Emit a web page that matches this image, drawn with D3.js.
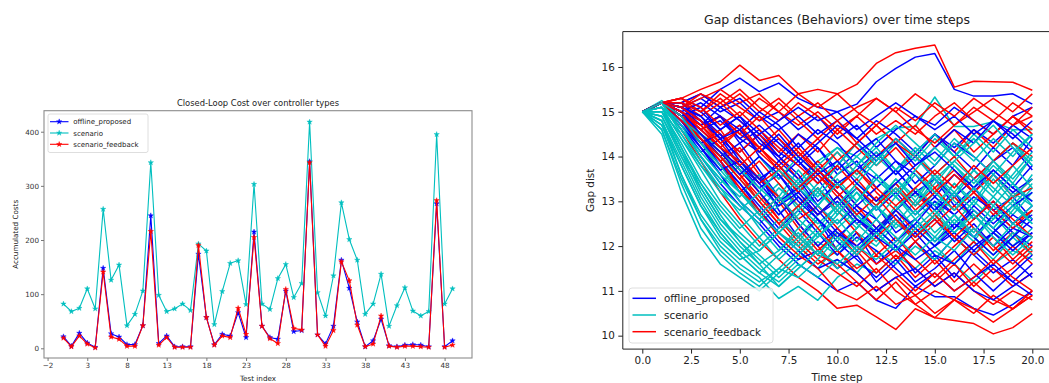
<!DOCTYPE html>
<html>
<head>
<meta charset="utf-8">
<script src="https://cdn.jsdelivr.net/npm/d3@7"></script>
<style>
  html, body { margin: 0; padding: 0; background: #fff; overflow: hidden; }
  svg { display: block; font-family: "DejaVu Sans", sans-serif; }
</style>
</head>
<body>
<div id="chart"></div>
<script>
// --- DATA: left panel (closed-loop cost per test) ---
const seriesNames = ["offline_proposed", "scenario", "scenario_feedback"];
const testIndex = d3.range(50);
const offlineCost = [21.5, 4, 28, 10, 2, 148, 27, 21, 7, 7,
  42, 245, 9, 23, 3, 3, 3, 174, 57, 7,
  26, 23, 66, 20, 215, 41, 20, 17, 106, 31,
  33, 345, 25, 8, 41, 163, 111, 49, 3, 14,
  54, 5, 3, 6, 7, 6, 3, 267, 3, 14];
const scenarioCost = [82, 68, 74, 110, 73, 257, 126, 154, 42, 63,
  106, 343, 98, 68, 73, 82, 70, 193, 180, 44,
  105, 157, 162, 81, 303, 82, 72, 129, 155, 94,
  120, 418, 103, 60, 134, 269, 201, 163, 63, 82,
  137, 41, 79, 112, 69, 60, 68, 395, 82, 110];
const feedbackCost = [19, 3, 23, 8, 1, 141, 21, 17, 4, 4,
  42, 216, 6, 20, 2, 2, 2, 190, 57, 6,
  23, 20, 74, 26, 205, 41, 18, 9, 109, 37,
  34, 343, 25, 4, 33, 160, 125, 43, 3, 8,
  60, 4, 2, 4, 4, 3, 2, 273, 2, 6];
const costTicksX = [-2, 3, 8, 13, 18, 23, 28, 33, 38, 43, 48];
const costTicksY = [0, 100, 200, 300, 400];

// --- DATA: right panel (gap distance trajectories, t = 0..20) ---
const timeSteps = d3.range(21);
const offlineRuns = [
  [15, 15.2, 15.3, 15.1, 15.5, 15.75, 15.45, 15.64, 15.3, 15.1, 15.0, 15.17, 15.67, 15.97, 16.22, 16.3, 15.5, 15.35, 15.35, 15.4, 15.17],
  [15, 15.2, 14.6, 14.0, 13.4, 12.9, 12.5, 12.0, 11.6, 11.3, 11.0, 11.2, 10.79, 10.61, 11.1, 10.87, 10.87, 10.61, 10.46, 10.7, 11.0],
  [15, 15.2, 15.0, 14.7, 14.9, 14.3, 14.6, 14.1, 13.8, 14.2, 13.6, 13.9, 13.3, 13.7, 13.2, 13.5, 12.9, 13.3, 12.8, 13.1, 12.6],
  [15, 15.2, 14.8, 14.3, 13.9, 13.2, 13.6, 12.8, 12.2, 12.6, 11.9, 12.3, 11.6, 12.0, 11.4, 11.8, 11.3, 11.9, 11.5, 11.2, 11.6],
  [15, 15.2, 15.1, 15.3, 15.0, 15.2, 14.8, 15.0, 14.6, 14.9, 14.4, 14.7, 14.2, 14.6, 14.9, 14.7, 15.1, 14.8, 14.5, 14.9, 15.1],
  [15, 15.2, 14.9, 14.5, 14.1, 13.8, 13.3, 13.6, 13.1, 12.7, 13.0, 12.5, 12.9, 12.3, 12.6, 12.1, 12.5, 12.2, 12.7, 12.3, 12.0],
  [15, 15.2, 15.2, 14.8, 14.4, 14.7, 14.0, 13.5, 13.9, 13.4, 13.8, 14.3, 13.9, 14.4, 14.0, 14.5, 14.1, 13.7, 14.2, 13.8, 14.4],
  [15, 15.2, 14.7, 14.2, 13.6, 13.0, 12.6, 12.1, 11.7, 11.9, 11.5, 11.8, 11.2, 11.6, 12.1, 11.7, 12.2, 11.8, 11.4, 11.7, 11.3],
  [15, 15.2, 15.0, 14.6, 14.8, 14.4, 14.1, 14.4, 13.9, 13.5, 12.9, 13.3, 12.8, 13.2, 12.7, 13.1, 13.6, 13.2, 13.7, 13.3, 13.8],
  [15, 15.2, 15.2, 15.4, 15.1, 15.3, 14.9, 14.6, 14.9, 14.5, 14.8, 14.4, 14.8, 14.5, 14.1, 14.5, 14.2, 14.6, 14.3, 14.7, 14.4],
  [15, 15.2, 14.9, 14.4, 13.9, 13.4, 12.9, 12.4, 12.8, 12.3, 11.8, 12.2, 11.9, 11.5, 11.1, 11.4, 11.0, 11.3, 11.6, 11.2, 10.9],
  [15, 15.2, 15.1, 14.9, 14.5, 14.1, 14.5, 14.0, 13.6, 13.0, 13.4, 12.9, 13.3, 13.7, 13.2, 12.8, 13.2, 12.6, 13.0, 12.5, 12.9],
  [15, 15.2, 14.8, 14.5, 14.0, 14.3, 13.7, 13.1, 12.5, 12.0, 12.4, 11.9, 12.3, 12.7, 12.2, 12.6, 12.1, 12.5, 12.0, 12.4, 12.2],
  [15, 15.2, 15.0, 14.7, 15.1, 14.8, 14.4, 13.9, 14.3, 13.8, 13.4, 13.7, 14.1, 13.6, 14.0, 13.5, 13.1, 13.5, 13.9, 14.2, 13.7],
  [15, 15.2, 14.9, 14.6, 14.2, 13.7, 13.2, 12.7, 13.1, 12.6, 12.1, 11.7, 11.3, 11.7, 11.2, 11.5, 11.9, 11.4, 11.0, 11.4, 11.8],
  [15, 15.2, 15.1, 14.8, 14.4, 14.0, 13.5, 13.8, 13.3, 13.7, 13.2, 12.8, 12.4, 12.8, 13.2, 12.9, 12.4, 12.8, 12.4, 12.0, 12.3],
  [15, 15.2, 14.9, 15.1, 14.6, 14.9, 14.3, 14.0, 14.5, 14.2, 13.7, 14.1, 14.4, 13.9, 13.4, 13.8, 14.3, 14.0, 13.6, 13.2, 13.5],
  [15, 15.2, 14.7, 14.1, 14.4, 13.8, 13.4, 13.9, 13.5, 12.9, 12.5, 12.9, 12.6, 12.1, 12.5, 13.0, 12.7, 12.2, 11.8, 12.2, 12.6],
  [15, 15.2, 15.0, 15.2, 14.9, 14.6, 15.0, 14.7, 14.2, 14.6, 14.3, 13.8, 13.5, 13.9, 13.6, 13.1, 12.7, 13.1, 12.8, 12.4, 12.7],
  [15, 15.2, 14.8, 14.4, 13.8, 13.4, 12.8, 12.3, 11.9, 11.5, 11.7, 11.4, 11.0, 11.3, 11.5, 11.1, 11.4, 11.0, 10.8, 11.1, 11.4],
  [15, 15.2, 15.1, 14.7, 14.9, 14.4, 14.7, 14.3, 13.9, 14.3, 14.7, 14.4, 14.0, 14.3, 13.8, 14.2, 14.6, 14.3, 14.8, 14.5, 14.1],
  [15, 15.2, 14.9, 14.3, 14.5, 13.9, 13.5, 13.0, 13.3, 12.8, 12.3, 12.0, 12.4, 12.0, 11.7, 12.0, 12.4, 12.9, 12.5, 12.9, 13.2],
  [15, 15.2, 15.2, 15.0, 14.6, 14.9, 14.5, 14.8, 15.1, 14.8, 15.0, 14.6, 14.9, 15.2, 14.9, 14.6, 14.9, 14.5, 14.8, 14.4, 14.8],
  [15, 15.2, 14.8, 14.2, 13.7, 13.9, 13.4, 12.9, 13.2, 12.7, 13.1, 12.6, 12.2, 11.9, 12.3, 11.8, 11.6, 12.0, 12.3, 11.9, 12.3],
  [15, 15.2, 15.0, 14.5, 14.1, 13.6, 14.0, 13.6, 13.0, 12.6, 12.2, 12.6, 12.3, 12.8, 12.4, 12.0, 12.3, 11.9, 12.3, 12.7, 12.4],
  [15, 15.2, 15.1, 14.9, 14.4, 14.6, 14.1, 14.5, 14.0, 13.6, 13.9, 13.4, 13.0, 13.4, 13.8, 14.1, 13.7, 13.3, 13.7, 13.3, 13.0]
];
const scenarioRuns = [
  [15, 15.25, 14.9, 14.5, 14.2, 13.9, 13.5, 13.8, 13.4, 13.9, 14.2, 14.0, 14.4, 14.64, 14.67, 15.33, 14.67, 14.67, 14.78, 14.6, 14.6],
  [15, 14.8, 13.6, 12.6, 12.0, 11.6, 11.3, 10.83, 11.1, 10.79, 11.3, 11.6, 11.4, 11.8, 11.5, 11.9, 11.6, 11.2, 11.6, 11.9, 11.7],
  [15, 15.1, 14.2, 13.3, 12.6, 12.1, 11.7, 11.3, 11.7, 12.1, 11.8, 12.3, 12.0, 12.5, 12.2, 12.7, 12.3, 12.8, 12.4, 12.9, 12.6],
  [15, 15.0, 14.5, 13.8, 13.3, 12.9, 12.5, 12.9, 13.4, 12.9, 13.5, 13.0, 13.6, 13.1, 13.7, 13.2, 13.8, 13.3, 13.9, 13.4, 14.0],
  [15, 15.2, 14.8, 14.2, 13.6, 13.0, 12.4, 11.9, 12.3, 11.8, 12.4, 12.8, 12.3, 12.9, 12.4, 12.0, 12.5, 12.1, 12.7, 12.2, 12.8],
  [15, 14.6, 13.4, 12.4, 11.8, 11.4, 11.1, 11.5, 11.9, 11.5, 12.0, 12.4, 12.9, 12.5, 13.0, 12.6, 13.1, 12.7, 12.3, 12.8, 13.3],
  [15, 15.2, 14.6, 14.0, 13.4, 13.8, 13.2, 12.7, 13.2, 13.7, 13.3, 13.8, 14.2, 13.7, 14.1, 13.6, 14.0, 14.4, 13.9, 14.3, 13.8],
  [15, 14.9, 14.0, 13.1, 12.4, 11.9, 11.5, 11.2, 11.6, 11.3, 11.7, 11.4, 11.9, 11.6, 12.0, 11.7, 12.2, 11.8, 12.3, 12.0, 12.4],
  [15, 15.2, 15.0, 14.4, 14.0, 13.5, 13.0, 13.4, 12.8, 13.3, 12.7, 13.2, 12.6, 13.1, 12.6, 13.0, 12.5, 13.0, 12.6, 13.2, 12.9],
  [15, 14.7, 13.8, 12.9, 12.2, 11.8, 12.2, 11.7, 12.1, 12.6, 12.1, 12.7, 12.2, 12.8, 13.3, 12.8, 13.4, 12.9, 13.5, 13.0, 13.6],
  [15, 15.1, 14.4, 13.7, 13.0, 12.5, 12.0, 12.4, 12.9, 13.4, 13.9, 13.5, 14.0, 13.6, 14.1, 14.5, 14.0, 14.4, 13.9, 14.3, 13.9],
  [15, 15.0, 14.1, 13.2, 12.5, 12.0, 11.6, 11.1, 11.5, 11.9, 11.5, 11.9, 12.3, 11.9, 12.4, 12.0, 11.6, 12.1, 11.7, 12.2, 11.8],
  [15, 15.2, 14.7, 14.3, 13.7, 13.2, 12.8, 13.3, 12.9, 12.5, 12.9, 13.4, 13.0, 13.5, 13.1, 13.6, 13.2, 13.7, 13.3, 12.9, 13.4],
  [15, 14.5, 13.2, 12.2, 11.6, 11.3, 11.0, 11.4, 11.8, 12.3, 12.8, 12.4, 12.9, 13.4, 12.9, 13.5, 13.0, 12.6, 13.1, 12.7, 13.2],
  [15, 15.1, 14.6, 14.0, 13.5, 13.1, 13.6, 13.1, 13.7, 13.2, 13.8, 14.3, 13.8, 14.3, 13.9, 14.4, 14.0, 14.5, 14.1, 14.6, 14.2],
  [15, 14.8, 13.9, 13.0, 12.3, 11.8, 11.4, 11.8, 12.2, 11.8, 12.3, 11.9, 12.4, 12.0, 12.5, 12.1, 12.6, 12.2, 11.8, 12.3, 11.9],
  [15, 15.0, 14.3, 13.5, 12.9, 12.4, 12.8, 12.3, 12.7, 13.2, 12.8, 13.3, 12.9, 13.5, 13.0, 13.6, 13.1, 13.7, 13.2, 13.8, 13.3],
  [15, 15.2, 14.8, 14.4, 14.0, 13.6, 14.0, 13.5, 14.0, 13.6, 14.1, 13.6, 14.1, 13.7, 14.2, 13.8, 14.3, 13.9, 14.4, 14.0, 14.5],
  [15, 15.2, 14.5, 13.9, 13.3, 12.7, 12.2, 12.6, 12.2, 12.7, 13.1, 12.7, 12.3, 12.8, 13.3, 12.9, 13.4, 13.0, 13.6, 13.1, 13.5],
  [15, 14.9, 14.1, 13.4, 12.7, 12.1, 11.6, 11.9, 12.4, 12.9, 12.5, 13.0, 13.5, 13.1, 12.7, 13.2, 12.8, 13.3, 13.8, 13.4, 13.0],
  [15, 15.1, 14.8, 14.5, 14.1, 13.7, 13.3, 12.9, 13.3, 13.8, 14.2, 13.8, 14.3, 14.7, 14.3, 13.9, 14.4, 14.0, 13.6, 14.1, 14.5],
  [15, 14.7, 13.6, 12.7, 12.1, 11.7, 11.9, 12.3, 12.0, 12.4, 12.9, 12.5, 12.1, 12.6, 12.2, 12.7, 13.2, 12.8, 12.4, 12.9, 12.5],
  [15, 15.2, 14.7, 14.0, 13.5, 13.0, 12.6, 13.0, 13.5, 13.1, 13.6, 14.0, 13.6, 13.2, 13.7, 14.2, 13.8, 13.4, 13.9, 13.5, 14.0],
  [15, 15.0, 14.2, 13.4, 12.8, 12.3, 11.9, 12.3, 11.9, 12.3, 11.9, 12.4, 12.9, 12.4, 12.8, 12.3, 12.7, 12.2, 12.6, 13.0, 12.5],
  [15, 15.2, 14.9, 14.3, 13.8, 13.2, 12.7, 12.3, 12.8, 13.3, 12.9, 13.4, 13.9, 14.4, 14.0, 13.5, 13.9, 14.3, 14.7, 14.2, 13.8],
  [15, 14.6, 13.5, 12.6, 11.9, 11.5, 11.2, 11.5, 11.3, 11.7, 12.2, 11.8, 12.3, 11.9, 12.4, 12.8, 12.3, 12.7, 12.2, 11.8, 12.2],
  [15, 15.1, 14.4, 13.8, 13.2, 12.8, 13.2, 13.7, 13.3, 12.9, 13.4, 13.0, 13.5, 13.1, 13.6, 13.2, 12.8, 13.3, 12.9, 13.4, 12.9],
  [15, 14.9, 14.0, 13.3, 12.6, 12.2, 11.8, 11.4, 11.8, 12.2, 12.7, 13.2, 12.8, 13.3, 12.9, 13.4, 13.9, 13.5, 13.1, 13.6, 14.1],
  [15, 15.2, 14.6, 14.1, 13.6, 13.2, 12.7, 13.1, 12.6, 12.2, 12.6, 12.1, 12.6, 12.2, 11.8, 12.2, 11.9, 12.4, 12.0, 12.5, 12.2],
  [15, 14.8, 13.8, 12.9, 12.3, 11.8, 11.4, 11.1, 11.5, 11.9, 11.6, 12.0, 11.7, 12.1, 12.6, 12.2, 12.7, 12.3, 12.9, 12.5, 12.9]
];
const feedbackRuns = [
  [15, 15.2, 15.3, 15.5, 15.67, 16.04, 15.7, 15.81, 15.4, 15.5, 15.4, 15.61, 16.08, 16.32, 16.42, 16.49, 15.55, 15.68, 15.67, 15.66, 15.48],
  [15, 15.2, 14.6, 13.9, 13.2, 12.6, 12.1, 11.7, 11.3, 11.0, 10.61, 10.68, 10.42, 10.14, 10.6, 10.4, 10.34, 10.27, 10.04, 10.18, 10.49],
  [15, 15.2, 15.2, 15.4, 15.1, 15.4, 15.0, 15.3, 14.9, 15.2, 14.8, 15.1, 15.3, 15.0, 15.4, 15.1, 14.7, 15.0, 15.3, 15.0, 15.4],
  [15, 15.2, 14.9, 14.5, 14.0, 13.6, 13.0, 12.5, 12.0, 11.6, 11.9, 11.4, 11.0, 11.3, 10.9, 11.2, 11.6, 11.1, 11.5, 11.1, 11.4],
  [15, 15.2, 15.0, 14.7, 14.9, 14.5, 14.2, 14.6, 14.1, 13.7, 14.1, 13.6, 14.0, 14.4, 14.0, 14.5, 14.1, 14.6, 14.2, 14.7, 14.9],
  [15, 15.2, 14.8, 14.3, 13.8, 13.3, 12.7, 13.1, 12.5, 12.0, 11.5, 11.9, 11.4, 11.8, 11.3, 11.7, 11.2, 11.6, 11.2, 11.5, 11.9],
  [15, 15.2, 15.1, 15.3, 15.5, 15.2, 15.4, 15.0, 14.7, 15.0, 14.6, 14.9, 14.5, 14.8, 14.5, 14.9, 15.2, 14.8, 14.5, 14.9, 14.6],
  [15, 15.2, 14.9, 14.6, 14.2, 13.7, 13.2, 12.6, 12.1, 11.7, 11.4, 11.1, 11.5, 11.0, 10.7, 11.0, 10.8, 11.2, 10.8, 10.6, 11.0],
  [15, 15.2, 15.0, 14.8, 14.4, 14.7, 14.2, 13.8, 14.2, 13.7, 13.3, 13.7, 13.2, 12.8, 13.2, 12.7, 13.1, 12.6, 13.0, 12.5, 12.8],
  [15, 15.2, 15.2, 14.9, 15.2, 14.8, 14.4, 14.0, 13.5, 13.9, 13.4, 12.9, 12.4, 12.8, 12.3, 12.7, 12.2, 11.8, 12.2, 11.7, 12.1],
  [15, 15.2, 14.9, 14.4, 13.9, 14.2, 13.6, 13.0, 12.4, 11.9, 12.3, 11.8, 12.2, 11.7, 12.1, 11.6, 12.0, 12.4, 11.9, 12.3, 11.8],
  [15, 15.2, 15.1, 14.8, 14.5, 14.1, 14.5, 14.1, 14.5, 14.1, 14.6, 14.2, 13.8, 14.2, 13.7, 13.3, 13.7, 13.2, 13.6, 13.1, 13.5],
  [15, 15.2, 14.8, 14.4, 14.0, 13.5, 13.9, 13.4, 12.9, 13.3, 12.8, 12.3, 11.8, 12.2, 11.7, 11.3, 11.7, 12.1, 11.6, 12.0, 11.6],
  [15, 15.2, 15.3, 15.0, 15.4, 15.1, 14.8, 15.2, 14.8, 14.4, 14.8, 14.3, 14.7, 14.3, 14.7, 14.2, 14.6, 14.1, 14.5, 14.9, 14.5],
  [15, 15.2, 14.9, 14.5, 14.1, 13.6, 13.1, 12.6, 12.2, 11.8, 11.6, 11.2, 10.8, 11.2, 10.7, 10.4, 10.8, 10.5, 10.9, 10.6, 10.9],
  [15, 15.2, 15.0, 14.6, 14.2, 14.6, 14.2, 13.7, 13.2, 13.6, 13.1, 13.5, 13.0, 13.4, 12.9, 13.3, 12.8, 13.2, 12.7, 13.1, 13.3],
  [15, 15.2, 15.1, 15.4, 15.2, 15.5, 15.1, 14.8, 15.2, 14.9, 14.5, 14.9, 15.3, 15.0, 14.6, 14.3, 14.7, 15.1, 14.8, 15.2, 14.9],
  [15, 15.2, 14.8, 14.3, 14.6, 14.0, 13.5, 13.1, 12.6, 12.9, 12.4, 12.0, 11.6, 11.9, 11.5, 11.1, 11.4, 11.0, 10.7, 11.0, 10.8],
  [15, 15.2, 15.0, 14.6, 14.9, 14.5, 14.9, 14.4, 14.0, 14.4, 13.9, 14.3, 14.7, 14.3, 14.0, 13.6, 14.0, 13.5, 13.9, 14.3, 14.0],
  [15, 15.2, 14.9, 14.4, 13.9, 13.3, 12.8, 12.2, 11.8, 11.5, 11.0, 10.8, 11.1, 10.7, 10.9, 10.5, 10.8, 10.6, 10.3, 10.6, 10.9],
  [15, 15.2, 15.3, 15.1, 14.7, 15.0, 14.6, 14.2, 13.8, 13.4, 13.8, 13.3, 12.9, 13.3, 12.8, 13.2, 13.6, 13.2, 12.8, 12.4, 12.8],
  [15, 15.2, 14.9, 14.7, 14.2, 13.9, 13.4, 13.7, 13.2, 12.7, 13.1, 12.6, 12.2, 12.6, 12.1, 12.5, 12.9, 12.4, 12.0, 11.6, 12.0],
  [15, 15.2, 15.2, 15.0, 15.3, 14.9, 15.3, 15.0, 15.4, 15.1, 15.4, 15.0, 14.7, 15.1, 14.8, 15.2, 14.9, 15.3, 15.0, 14.7, 15.1],
  [15, 15.2, 14.8, 14.4, 14.0, 13.5, 13.0, 12.5, 12.9, 12.4, 11.9, 11.5, 11.8, 11.4, 11.0, 11.4, 11.0, 11.3, 11.7, 11.3, 11.0],
  [15, 15.2, 15.0, 14.7, 14.3, 14.6, 14.1, 13.7, 14.1, 13.6, 13.2, 12.7, 13.1, 12.6, 12.2, 12.6, 12.2, 12.6, 13.0, 12.6, 12.2],
  [15, 15.2, 15.1, 14.8, 14.3, 13.8, 14.2, 13.8, 13.3, 13.7, 13.3, 13.7, 13.3, 12.9, 13.3, 13.7, 13.3, 13.8, 13.4, 13.8, 14.2]
];
const gapTicksX = [0, 2.5, 5, 7.5, 10, 12.5, 15, 17.5, 20];
const gapTicksY = [10, 11, 12, 13, 14, 15, 16];

// --- STYLE ---
const W = 1049, H = 383;
const COLORS = { offline_proposed: "#0000ff", scenario: "#00bfbf", scenario_feedback: "#ff0000" };

const svg = d3.select("#chart").append("svg")
  .attr("width", W).attr("height", H).attr("viewBox", [0, 0, W, H]);

// ===================== LEFT PANEL =====================
const LB = { left: 44, right: 472, top: 110.7, bottom: 358 };
const xL = d3.scaleLinear().domain([-2.45, 51.45]).range([LB.left, LB.right]);
const yL = d3.scaleLinear().domain([-17.9, 438.8]).range([LB.bottom, LB.top]);

const left = svg.append("g");

const costSeries = [
  { key: "offline_proposed", values: offlineCost },
  { key: "scenario", values: scenarioCost },
  { key: "scenario_feedback", values: feedbackCost }
];

const lineL = d3.line().x((d, i) => xL(testIndex[i])).y(d => yL(d));
const star = d3.symbol().type(d3.symbolStar).size(9);

costSeries.forEach(s => {
  left.append("path")
    .attr("d", lineL(s.values))
    .attr("fill", "none")
    .attr("stroke", COLORS[s.key])
    .attr("stroke-width", 1.1)
    .attr("stroke-linejoin", "round");
  left.append("g").selectAll("path")
    .data(s.values)
    .join("path")
    .attr("d", star)
    .attr("transform", (d, i) => `translate(${xL(testIndex[i])},${yL(d)})`)
    .attr("fill", COLORS[s.key])
    .attr("stroke", COLORS[s.key])
    .attr("stroke-width", 0.4);
});

// frame
left.append("rect")
  .attr("x", LB.left).attr("y", LB.top)
  .attr("width", LB.right - LB.left).attr("height", LB.bottom - LB.top)
  .attr("fill", "none").attr("stroke", "#8c8c8c").attr("stroke-width", 1.1);

left.append("g")
  .attr("transform", `translate(0,${LB.bottom})`)
  .call(d3.axisBottom(xL).tickValues(costTicksX).tickSize(3).tickPadding(2))
  .call(g => g.select(".domain").remove())
  .call(g => g.selectAll("line").attr("stroke", "#777"))
  .call(g => g.selectAll("text").attr("font-size", 7.2).attr("fill", "#333").attr("font-family", "DejaVu Sans"));

left.append("g")
  .attr("transform", `translate(${LB.left},0)`)
  .call(d3.axisLeft(yL).tickValues(costTicksY).tickSize(3).tickPadding(2))
  .call(g => g.select(".domain").remove())
  .call(g => g.selectAll("line").attr("stroke", "#777"))
  .call(g => g.selectAll("text").attr("font-size", 7.2).attr("fill", "#333").attr("font-family", "DejaVu Sans"));

left.append("text")
  .attr("x", (LB.left + LB.right) / 2).attr("y", 106)
  .attr("text-anchor", "middle").attr("font-size", 8.4).attr("fill", "#222")
  .text("Closed-Loop Cost over controller types");
left.append("text")
  .attr("x", (LB.left + LB.right) / 2).attr("y", 380.5)
  .attr("text-anchor", "middle").attr("font-size", 7.2).attr("fill", "#222")
  .text("Test index");
left.append("text")
  .attr("transform", `translate(17.5,${(LB.top + LB.bottom) / 2}) rotate(-90)`)
  .attr("text-anchor", "middle").attr("font-size", 7.2).attr("fill", "#222")
  .text("Accumulated Costs");

// legend
const legL = left.append("g");
legL.append("rect")
  .attr("x", 48).attr("y", 114).attr("width", 100).attr("height", 38.5).attr("rx", 2)
  .attr("fill", "#fff").attr("fill-opacity", 0.85).attr("stroke", "#d6d6d6").attr("stroke-width", 0.8);
seriesNames.forEach((k, i) => {
  const yy = 121.7 + i * 11.3;
  legL.append("line").attr("x1", 50).attr("x2", 68.5).attr("y1", yy).attr("y2", yy)
    .attr("stroke", COLORS[k]).attr("stroke-width", 1.1);
  legL.append("path").attr("d", star).attr("transform", `translate(59.2,${yy})`)
    .attr("fill", COLORS[k]).attr("stroke", COLORS[k]).attr("stroke-width", 0.4);
  legL.append("text").attr("x", 73.3).attr("y", yy + 2.5)
    .attr("font-size", 7).attr("fill", "#222").text(k);
});

// ===================== RIGHT PANEL =====================
const RB = { left: 622.8, right: 1051.8, top: 31.6, bottom: 349.1 };
const xR = d3.scaleLinear().domain([-1, 21]).range([RB.left, RB.right]);
const yR = d3.scaleLinear().domain([9.7, 16.79]).range([RB.bottom, RB.top]);

const right = svg.append("g");
const lineR = d3.line().x((d, i) => xR(timeSteps[i])).y(d => yR(d));

// per run: blue, then red, then teal on top
const runGroups = [
  { key: "offline_proposed", runs: offlineRuns },
  { key: "scenario_feedback", runs: feedbackRuns },
  { key: "scenario", runs: scenarioRuns }
];
const nRuns = d3.max(runGroups, g => g.runs.length);
for (let i = 0; i < nRuns; i++) {
  runGroups.forEach(g => {
    if (!g.runs[i]) return;
    right.append("path")
      .attr("d", lineR(g.runs[i]))
      .attr("fill", "none")
      .attr("stroke", COLORS[g.key])
      .attr("stroke-width", 1.5)
      .attr("stroke-linejoin", "round");
  });
}

// spines (left, top, bottom)
right.append("path")
  .attr("d", `M${RB.right},${RB.top}H${RB.left}V${RB.bottom}H${RB.right}`)
  .attr("fill", "none").attr("stroke", "#222").attr("stroke-width", 1);

right.append("g")
  .attr("transform", `translate(0,${RB.bottom})`)
  .call(d3.axisBottom(xR).tickValues(gapTicksX).tickFormat(d3.format(".1f")).tickSize(4.5).tickPadding(3))
  .call(g => g.select(".domain").remove())
  .call(g => g.selectAll("line").attr("stroke", "#222"))
  .call(g => g.selectAll("text").attr("font-size", 10.4).attr("fill", "#222").attr("font-family", "DejaVu Sans"));

right.append("g")
  .attr("transform", `translate(${RB.left},0)`)
  .call(d3.axisLeft(yR).tickValues(gapTicksY).tickSize(4.5).tickPadding(3.5))
  .call(g => g.select(".domain").remove())
  .call(g => g.selectAll("line").attr("stroke", "#222"))
  .call(g => g.selectAll("text").attr("font-size", 10.4).attr("fill", "#222").attr("font-family", "DejaVu Sans"));

right.append("text")
  .attr("x", 837).attr("y", 23.5)
  .attr("text-anchor", "middle").attr("font-size", 12.5).attr("fill", "#222")
  .text("Gap distances (Behaviors) over time steps");
right.append("text")
  .attr("x", 837).attr("y", 381)
  .attr("text-anchor", "middle").attr("font-size", 10.4).attr("fill", "#222")
  .text("Time step");
right.append("text")
  .attr("transform", `translate(594,${(RB.top + RB.bottom) / 2}) rotate(-90)`)
  .attr("text-anchor", "middle").attr("font-size", 10.4).attr("fill", "#222")
  .text("Gap dist");

const legR = right.append("g");
legR.append("rect")
  .attr("x", 629).attr("y", 288).attr("width", 144).attr("height", 55).attr("rx", 3)
  .attr("fill", "#fff").attr("fill-opacity", 0.8).attr("stroke", "#d6d6d6").attr("stroke-width", 0.8);
seriesNames.forEach((k, i) => {
  const yy = 298.3 + i * 16.7;
  legR.append("line").attr("x1", 632.5).attr("x2", 656).attr("y1", yy).attr("y2", yy)
    .attr("stroke", COLORS[k]).attr("stroke-width", 1.5);
  legR.append("text").attr("x", 664).attr("y", yy + 3.8)
    .attr("font-size", 10.4).attr("fill", "#222").text(k);
});
</script>
</body>
</html>
